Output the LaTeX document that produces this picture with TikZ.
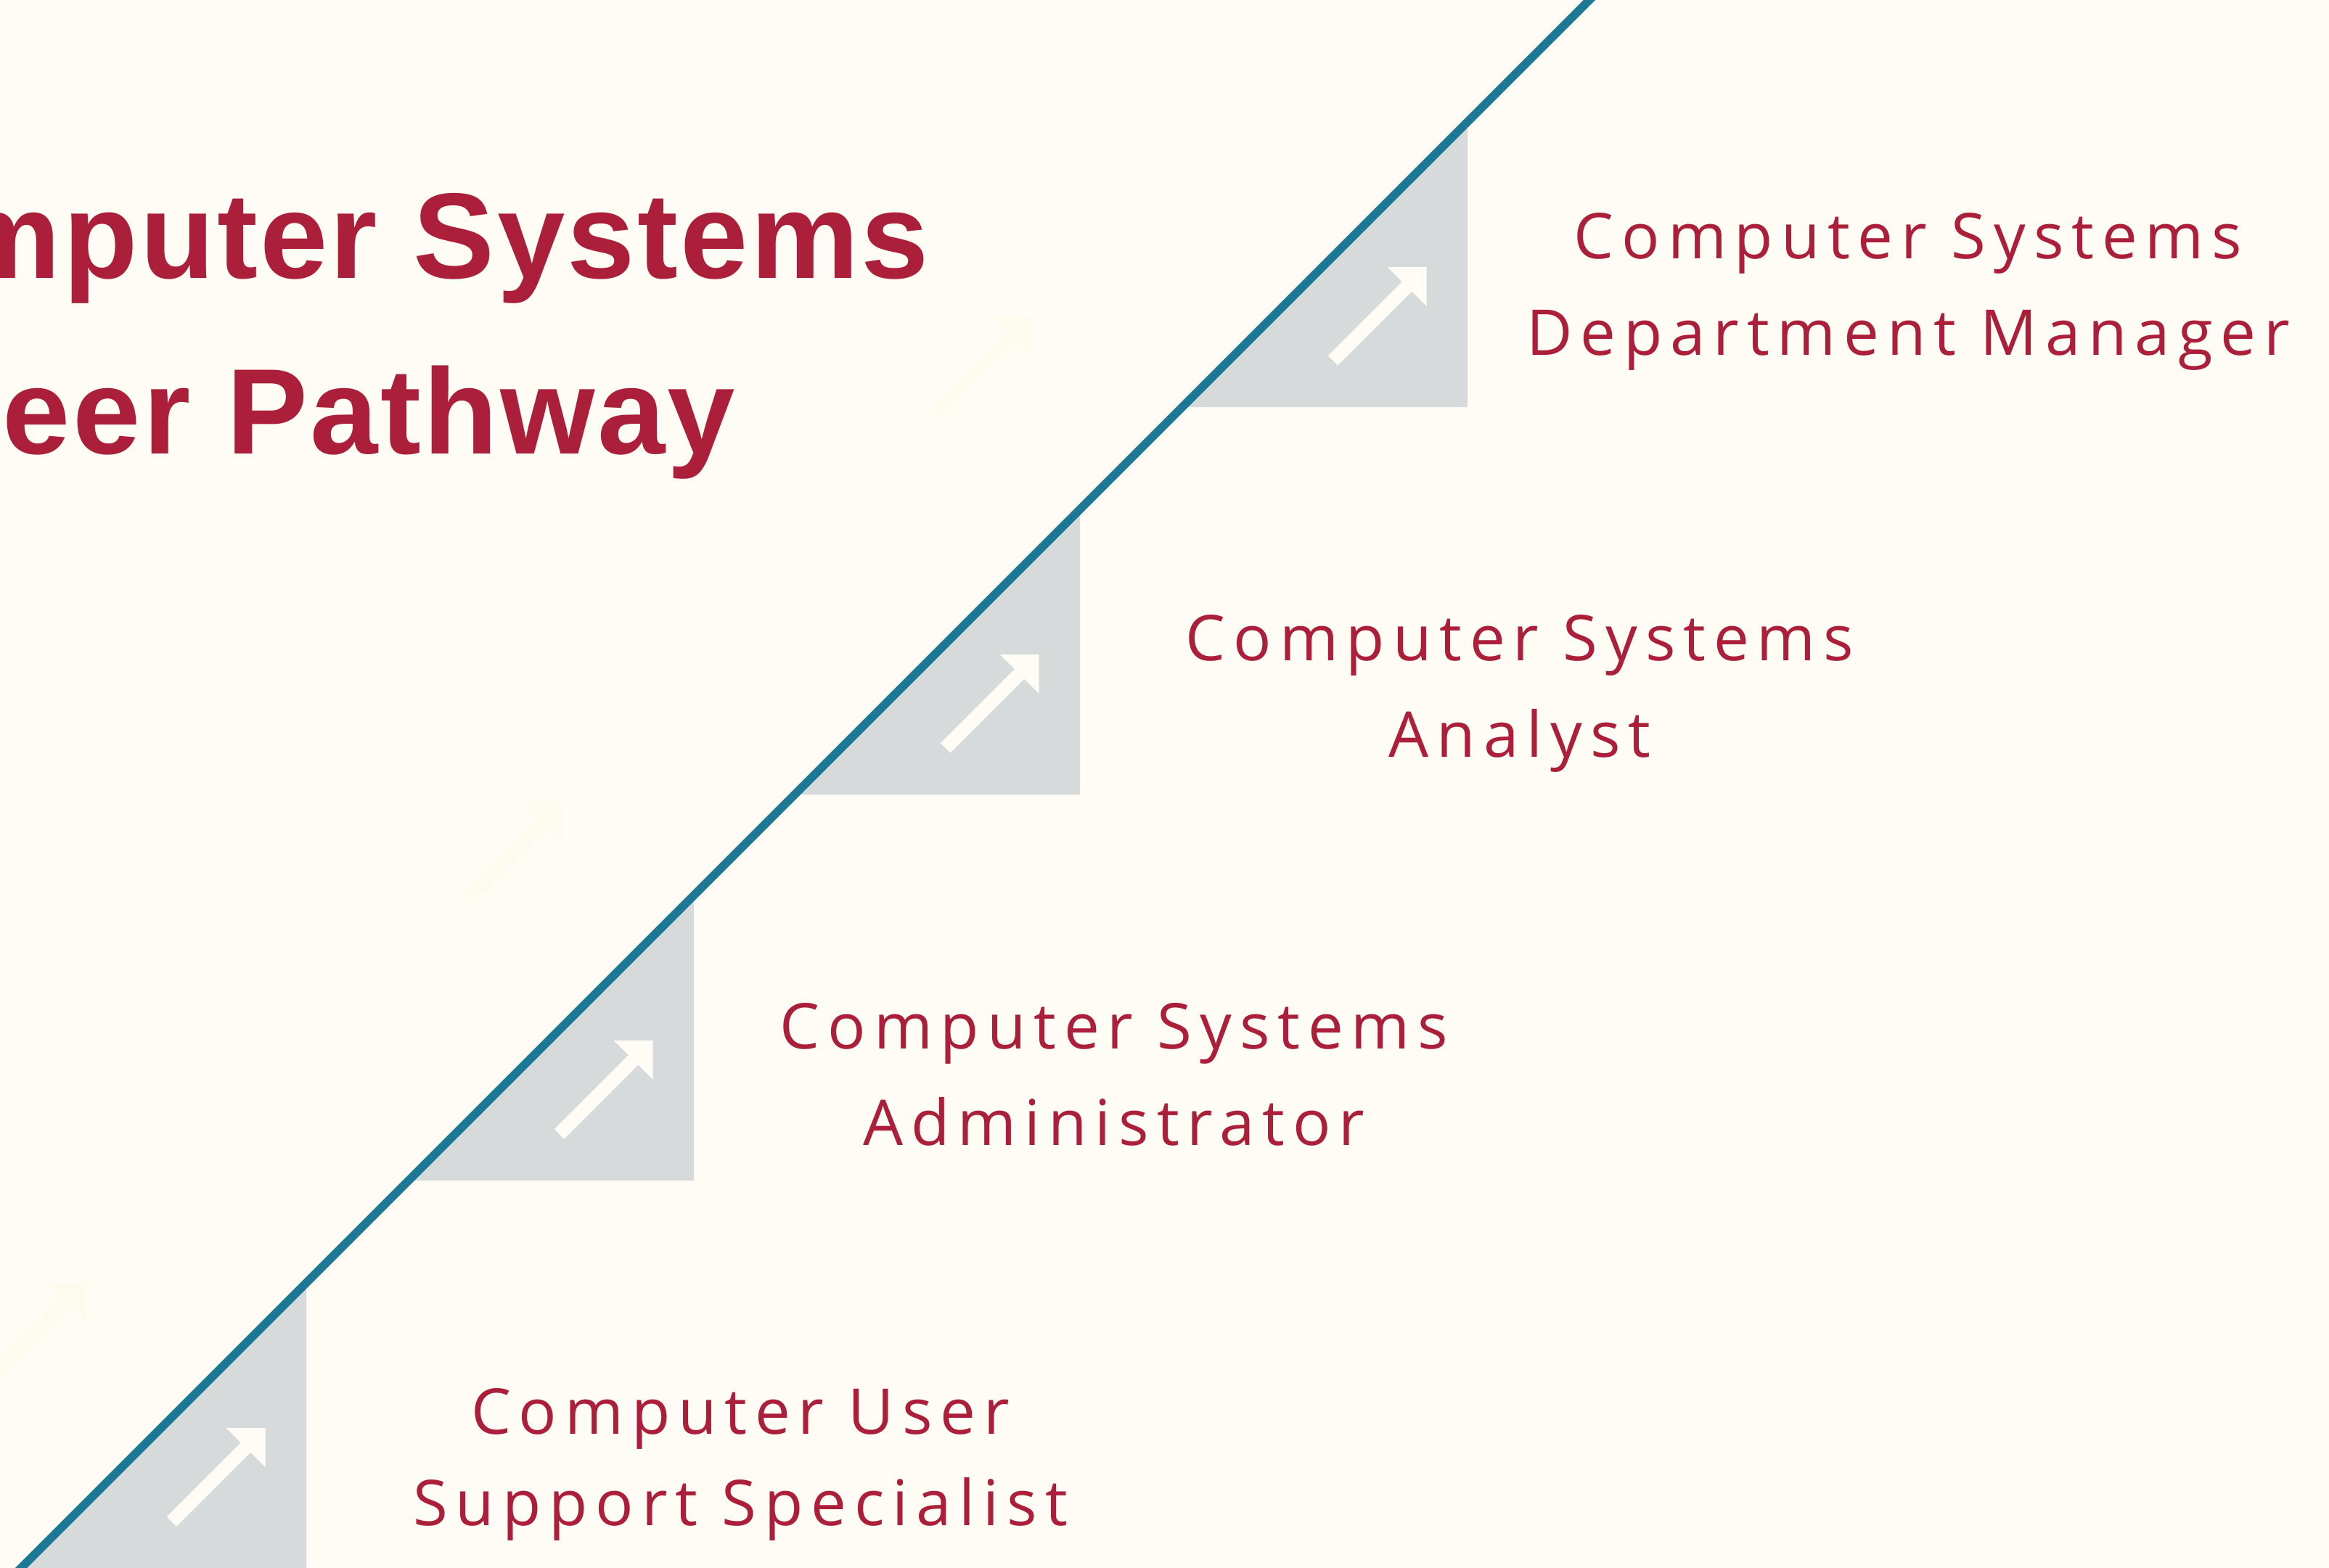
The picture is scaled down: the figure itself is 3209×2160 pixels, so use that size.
\documentclass[tikz,border=0pt]{standalone}
\usepackage{fontspec}
\usetikzlibrary{arrows.meta}
\newfontfamily\titlefont[LetterSpace=2]{Liberation Sans}
\newfontfamily\jobfont[LetterSpace=12.5]{Open Sans}
\definecolor{bgcream}{HTML}{FEFCF4}
\definecolor{ghostcream}{HTML}{FDFAEE}
\definecolor{pathred}{HTML}{AB1F3A}
\definecolor{railteal}{HTML}{1C7895}
\definecolor{stairgrey}{HTML}{D6DADB}

\begin{document}
\begin{tikzpicture}[x=0.01cm, y=-0.01cm]
\tikzstyle{stair} = [fill=stairgrey]
\tikzstyle{rail} = [draw=railteal, line width=0.115cm]
\tikzstyle{up} = [draw=bgcream, line width=0.19cm, -{Triangle[width=0.76cm, length=0.38cm, line width=0pt]}]
\tikzstyle{ghost} = [up, draw=ghostcream]
\tikzstyle{head} = [font=\titlefont\bfseries\fontsize{47.7pt}{57pt}\selectfont, text=pathred, anchor=base east, inner sep=0pt]
\tikzstyle{job} = [font=\jobfont\fontsize{24.75pt}{37.56pt}\selectfont, text=pathred, align=center, anchor=base, inner sep=0pt]

\useasboundingbox (0,0) rectangle (3209,2160);
\fill[bgcream] (0,0) rectangle (3209,2160);
\clip (0,0) rectangle (3209,2160);

% title, cut at the left edge
\node[head](title1) at (1281, 383) {Computer Systems};
\node[head](title2) at (1014, 625) {Career Pathway};

% faint arrows above the rail
\draw[ghost] (1291, 566) -- (1420, 437);
\draw[ghost] (647, 1236) -- (776, 1107);
\draw[ghost] (-11, 1897) -- (118, 1768);

% steps
\fill[stair] (2022, 164) -- (2022, 561) -- (1625, 561) -- cycle;
\fill[stair] (1488, 698) -- (1488, 1095) -- (1091, 1095) -- cycle;
\fill[stair] (956, 1230) -- (956, 1627) -- (559, 1627) -- cycle;
\fill[stair] (422, 1764) -- (422, 2170) -- (16, 2170) -- cycle;

\draw[up] (1836.5, 497) -- (1965.5, 368);
\draw[up] (1302.5, 1031) -- (1431.5, 902);
\draw[up] (770.5, 1563) -- (899.5, 1434);
\draw[up] (236.5, 2097) -- (365.5, 1968);

% rail
\coordinate (railtop) at (2200, -10);
\coordinate (railend) at (20, 2170);
\draw[rail] (railend) -- (railtop);

% jobs (anchored on the second line)
\node[job](job1) at (2629, 489) {Computer Systems\\Department Manager};
\node[job](job2) at (2094, 1043) {Computer Systems\\Analyst};
\node[job](job3) at (1535, 1578) {Computer Systems\\Administrator};
\node[job, font=\jobfont\fontsize{24.75pt}{35.74pt}\selectfont](job4) at (1020, 2102) {Computer User\\Support Specialist};
\end{tikzpicture}
\end{document}
